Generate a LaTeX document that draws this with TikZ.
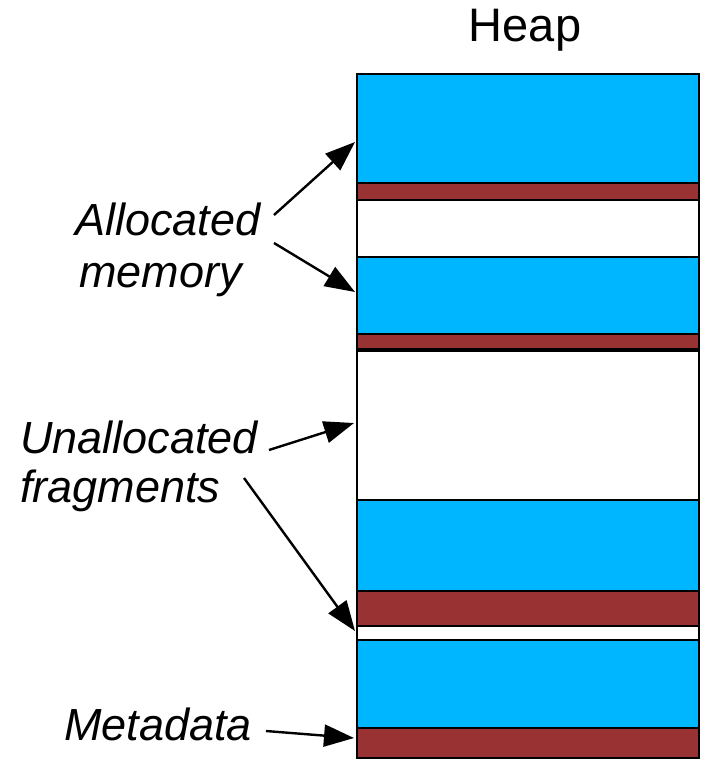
\documentclass[tikz,border=0pt]{standalone}
\usepackage{fontspec}
\setmainfont{Liberation Sans}
\usetikzlibrary{arrows.meta,calc}
\definecolor{usedblue}{RGB}{0,182,255}
\definecolor{metared}{RGB}{153,51,51}

\begin{document}
\begin{tikzpicture}[x=1pt,y=-1pt,
  blk/.style={draw=black, line width=1.6pt, anchor=north west, inner sep=0pt,
              outer sep=0pt, minimum width=342pt},
  used/.style={blk, fill=usedblue},
  hdr/.style={blk, fill=metared},
  gap/.style={blk, fill=white},
  lbl/.style={font=\fontsize{45}{52}\selectfont\itshape, anchor=base west, inner sep=0pt},
  ptr/.style={line width=2.4pt, -{Triangle[length=30pt,width=22pt]}}]

\useasboundingbox (0,0) rectangle (704,760);

% heap column, top to bottom
\node[used, minimum height=109pt] (b1) at (357,74)  {};
\node[hdr,  minimum height=17pt]  (m1) at (357,183) {};
\node[gap,  minimum height=57pt]  (f1) at (357,200) {};
\node[used, minimum height=77pt]  (b2) at (357,257) {};
\node[hdr,  minimum height=15pt]  (m2) at (357,334) {};
\node[gap,  minimum height=150pt] (f2) at (357,350) {};
\node[used, minimum height=91pt]  (b3) at (357,500) {};
\node[hdr,  minimum height=35pt]  (m3) at (357,591) {};
\node[gap,  minimum height=14pt]  (f3) at (357,626) {};
\node[used, minimum height=88pt]  (b4) at (357,640) {};
\node[hdr,  minimum height=30pt]  (m4) at (357,728) {};
\draw[line width=3.5pt] (f2.north west) -- (f2.north east);

% title
\node[font=\fontsize{47}{52}\selectfont, anchor=base, inner sep=0pt] (heap) at (525,42) {Heap};

% labels
\node[lbl] (alloc1) at (75,235) {Allocated};
\node[lbl] (alloc2) at (79,287) {memory};
\node[lbl] (unal1)  at (20,453) {Unallocated};
\node[lbl] (unal2)  at (20,502) {fragments};
\node[lbl] (metal)  at (64,740) {Metadata};

% arrow tails
\coordinate (s1) at (274,215);
\coordinate (s2) at (274,243);
\coordinate (s3) at (269,450);
\coordinate (s4) at (244,478);
\coordinate (s5) at (266,731);

% pointers into the column
\draw[ptr] (s1) -- ($(b1.north west)+(-2,68)$);
\draw[ptr] (s2) -- ($(b2.north west)+(-2,35)$);
\draw[ptr] (s3) -- ($(f2.north west)+(-3,73)$);
\draw[ptr] (s4) -- ($(f3.west)+(-2,-2)$);
\draw[ptr] (s5) -- ($(m4.north west)+(-3,10)$);
\end{tikzpicture}
\end{document}
